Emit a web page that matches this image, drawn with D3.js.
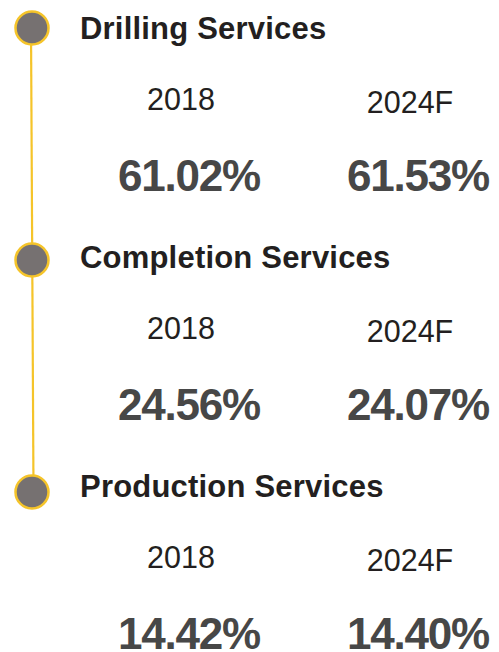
<!DOCTYPE html>
<html>
<head>
<meta charset="utf-8">
<script src="https://cdn.jsdelivr.net/npm/d3@7"></script>
<style>
  body { margin: 0; background: #fff; }
  text { font-family: "Liberation Sans", Arial, sans-serif; }
</style>
</head>
<body>
<script>
"use strict";
(function () {
// data
const segments = ["Drilling Services", "Completion Services", "Production Services"]
const years = ["2018", "2024F"]
const share2018 = [61.02, 24.56, 14.42]
const share2024 = [61.53, 24.07, 14.40]

const m = { width: 499, height: 652 }

const svg = d3.select("body").append("svg")
    .attr("width", m.width)
    .attr("height", m.height)

const g = svg.append("g")

// circles and content step a little differently in the source
const yDot = d3.scalePoint().domain(segments).range([28, 492])
const yRow = d3.scalePoint().domain(segments).range([0, 458])
const xCol = d3.scalePoint().domain(years).range([181, 410])

const rows = segments.map((s, i) => ({ name: s, vals: [share2018[i], share2024[i]] }))

// timeline
g.append("line")
    .attr("x1", 31)
    .attr("x2", 33.5)
    .attr("y1", yDot(segments[0]))
    .attr("y2", yDot(segments[segments.length - 1]))
    .attr("stroke", "#f5c42a")
    .attr("stroke-width", 2.2)

g.selectAll(".dot")
    .data(rows)
    .enter()
    .append("circle")
    .attr("class", "dot")
    .attr("cx", 32)
    .attr("cy", d => yDot(d.name))
    .attr("r", 16.5)
    .attr("fill", "#767171")
    .attr("stroke", "#f5c42a")
    .attr("stroke-width", 2.5)

const row = g.selectAll(".row")
    .data(rows)
    .enter()
    .append("g")
    .attr("class", "row")
    .attr("transform", d => `translate(0,${yRow(d.name)})`)

row.append("text")
    .attr("x", 80)
    .attr("y", 39)
    .attr("font-size", 31)
    .attr("font-weight", 700)
    .attr("letter-spacing", 0.2)
    .attr("fill", "#231f20")
    .text(d => d.name)

years.forEach(function (yr, j) {
    row.append("text")
        .attr("x", xCol(yr))
        .attr("y", 110 + j * 3)
        .attr("text-anchor", "middle")
        .attr("font-size", 30.5)
        .attr("fill", "#231f20")
        .text(yr)

    row.append("text")
        .attr("x", xCol(yr) + 8)
        .attr("y", 191)
        .attr("text-anchor", "middle")
        .attr("font-size", 44)
        .attr("font-weight", 700)
        .attr("letter-spacing", -1.2)
        .attr("fill", "#474747")
        .text(d => d.vals[j].toFixed(2) + "%")
})
})();
</script>
</body>
</html>
